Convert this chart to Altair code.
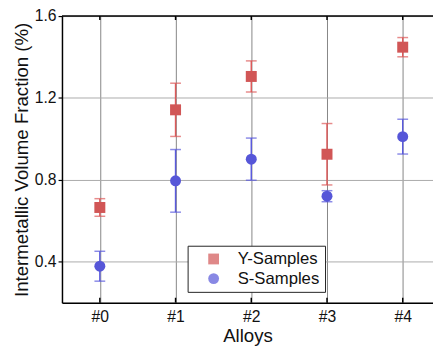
import altair as alt
import pandas as pd

alloys = ["#0", "#1", "#2", "#3", "#4"]
y_mean = [0.665, 1.142, 1.305, 0.925, 1.448]
y_err = [0.043, 0.130, 0.076, 0.150, 0.047]
s_mean = [0.378, 0.795, 0.901, 0.720, 1.011]
s_err = [0.073, 0.153, 0.103, 0.027, 0.085]
series = ["Y-Samples", "S-Samples"]
colors = ["#d15656", "#5656d8"]
err_colors = ["#dd5a5a", "#5a5add"]

rows = []
for i, a in enumerate(alloys):
    rows.append({"idx": i, "alloy": a, "series": series[0], "ecol": err_colors[0],
                 "mean": y_mean[i], "lo": y_mean[i] - y_err[i], "hi": y_mean[i] + y_err[i]})
    rows.append({"idx": i, "alloy": a, "series": series[1], "ecol": err_colors[1],
                 "mean": s_mean[i], "lo": s_mean[i] - s_err[i], "hi": s_mean[i] + s_err[i]})
df = pd.DataFrame(rows)
ticks_df = pd.DataFrame({"idx": list(range(len(alloys)))})

W, H = 378, 292
FONT = "Liberation Sans"

xscale = alt.Scale(domain=[-0.5, 4.4], nice=False, zero=False)
yscale = alt.Scale(domain=[0.2, 1.6], nice=False, zero=False)
cscale = alt.Scale(domain=series, range=colors)
sscale = alt.Scale(domain=series, range=["square", "circle"])

xaxis = alt.Axis(values=list(range(len(alloys))), labelExpr="'#' + datum.value",
                 title="Alloys", grid=True, gridColor="#858585", gridWidth=1,
                 ticks=False, domainColor="#000000", domainWidth=1.5,
                 labelFontSize=16, titleFontSize=19, labelFont=FONT, titleFont=FONT,
                 labelColor="#111111", titleColor="#111111", labelPadding=6,
                 titlePadding=3, titleFontWeight="normal")
yaxis = alt.Axis(values=[0.4, 0.8, 1.2, 1.6], format=".1f",
                 title="Intermetallic Volume Fraction (%)", grid=True,
                 gridColor="#aaaaaa", gridWidth=1, tickColor="#000000", tickSize=4,
                 tickWidth=1.2, domainColor="#000000", domainWidth=1.5,
                 labelFontSize=16, titleFontSize=19, labelFont=FONT, titleFont=FONT,
                 labelColor="#111111", titleColor="#111111", labelPadding=2,
                 titlePadding=3, titleFontWeight="normal", titleLimit=1000)

base = alt.Chart(df)

axes_layer = alt.Chart(ticks_df).mark_point(opacity=0).encode(
    x=alt.X("idx:Q", scale=xscale, axis=xaxis),
    y=alt.value(H),
)
y_axis_layer = base.mark_point(opacity=0).encode(
    x=alt.X("idx:Q", scale=xscale),
    y=alt.Y("mean:Q", scale=yscale, axis=yaxis),
)

top_border = alt.Chart(pd.DataFrame({"a": [0]})).mark_rule(color="#000000", strokeWidth=1.5).encode(
    x=alt.value(0), x2=alt.value(W), y=alt.value(0)
)
top_ticks = alt.Chart(ticks_df).mark_rule(color="#000000", strokeWidth=1.5).encode(
    x=alt.X("idx:Q", scale=xscale), y=alt.value(0), y2=alt.value(4)
)
bot_ticks = alt.Chart(ticks_df).mark_rule(color="#000000", strokeWidth=1.5).encode(
    x=alt.X("idx:Q", scale=xscale), y=alt.value(H), y2=alt.value(H - 5)
)

err_rule = base.mark_rule(strokeWidth=1.5).encode(
    x=alt.X("idx:Q", scale=xscale),
    y=alt.Y("lo:Q", scale=yscale),
    y2="hi:Q",
    color=alt.Color("ecol:N", scale=None),
)
cap_lo = base.mark_tick(orient="horizontal", size=11, thickness=1.5).encode(
    x=alt.X("idx:Q", scale=xscale),
    y=alt.Y("lo:Q", scale=yscale),
    color=alt.Color("ecol:N", scale=None),
)
cap_hi = base.mark_tick(orient="horizontal", size=11, thickness=1.5).encode(
    x=alt.X("idx:Q", scale=xscale),
    y=alt.Y("hi:Q", scale=yscale),
    color=alt.Color("ecol:N", scale=None),
)

legend = alt.Legend(title=None, orient="none", legendX=128, legendY=234,
                    strokeColor="#222222", fillColor="#ffffff", padding=5,
                    labelFontSize=17, labelFont=FONT, labelColor="#111111",
                    symbolSize=121, symbolOffset=13, labelOffset=16,
                    symbolOpacity=1, rowPadding=2, symbolStrokeWidth=0,
                    cornerRadius=0)

points = base.mark_point(filled=True, size=125, opacity=1, fillOpacity=1).encode(
    x=alt.X("idx:Q", scale=xscale),
    y=alt.Y("mean:Q", scale=yscale),
    color=alt.Color("series:N", scale=cscale, legend=legend, sort=series),
    shape=alt.Shape("series:N", scale=sscale, legend=legend, sort=series),
)

chart = alt.layer(
    axes_layer, y_axis_layer, top_border, top_ticks, bot_ticks,
    err_rule, cap_lo, cap_hi, points
).properties(
    width=W, height=H,
    autosize=alt.AutoSizeParams(type="none"),
    padding={"left": 55, "top": 5, "right": 0, "bottom": 44},
).configure_view(stroke=None).configure_point(opacity=1, fillOpacity=1).configure_legend(
    symbolOpacity=1
).configure(background="#ffffff")

chart.save("out.html", embed_options={"renderer": "svg", "actions": False})
